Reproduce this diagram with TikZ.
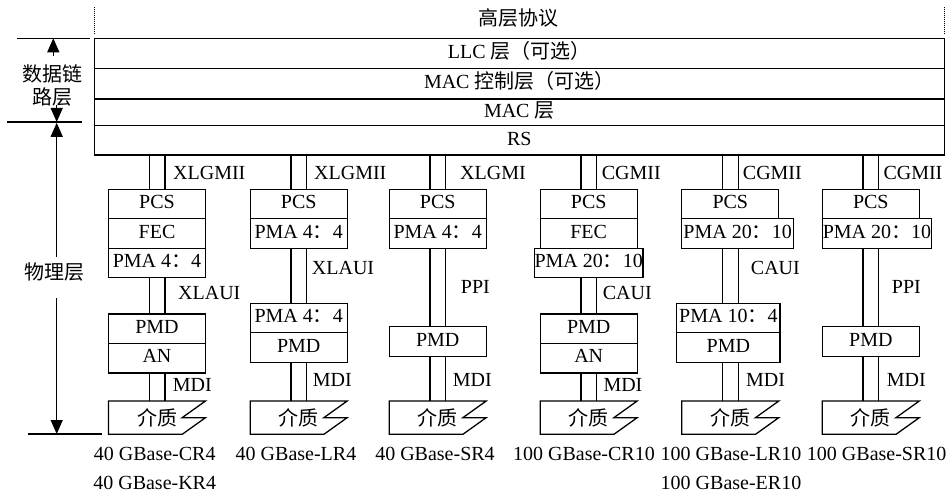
\documentclass[tikz,border=0pt]{standalone}
\usepackage{fontspec}
\setmainfont{Liberation Serif}
\newfontfamily\cjk{Noto Sans CJK SC}
\usepackage{tikz}
\usetikzlibrary{arrows.meta,positioning,backgrounds}
\tikzset{
    tier/.style={rectangle, draw, line width=1.3pt, minimum width=850pt, inner sep=0pt, outer sep=0pt, text height=13.3pt, text depth=3pt},
    blk/.style={rectangle, draw, line width=1.3pt, minimum width=97pt, minimum height=29.5pt, inner sep=0pt, outer sep=0pt, text height=13.3pt, text depth=4pt},
    media/.style={rectangle, minimum width=97pt, minimum height=33.3pt, inner sep=0pt, outer sep=0pt},
    outline/.style={line width=1.3pt, line join=miter},
    bus/.style={double, double distance=14.4pt, line width=1.3pt},
    span/.style={line width=1.3pt, -{Triangle[length=14pt,width=12pt]}},
    lbl/.style={anchor=west, inner sep=0pt},
    std/.style={inner sep=0pt},
    dotline/.style={line width=1pt, dash pattern=on 1pt off 1pt},
}

\begin{document}
\begin{tikzpicture}[x=1pt, y=-1pt, font=\fontsize{20}{23}\selectfont]
    \useasboundingbox (0,0) rectangle (952,497);

    % protocol stack on top
    \node[std] (upper) at (518.5,17.5) {{\cjk 高层协议}};
    \node[tier, minimum height=30pt, anchor=north west] (llc) at (94.3,38.3) {LLC {\cjk 层（可选）}};
    \node[tier, minimum height=30.7pt, below=0pt of llc] (macc) {MAC {\cjk 控制层（可选）}};
    \node[tier, minimum height=26.7pt, below=0pt of macc] (mac) {MAC {\cjk 层}};
    \node[tier, minimum height=29.3pt, below=0pt of mac] (rs) {RS};
    \draw[dotline] (llc.north west) ++(0,-4) -- ++(0,-27.5);
    \draw[dotline] (llc.north east) ++(0,-4) -- ++(0,-27.5);

    % left side: layer spans
    \coordinate (sepA) at (16.7,38.3);
    \coordinate (sepB) at (7.3,122);
    \coordinate (sepC) at (28.3,434);
    \draw[outline] (sepA) -- ++(73.3,0);
    \draw[outline] (sepB) -- ++(74.4,0);
    \draw[outline] (sepC) -- ++(73.4,0);
    \node[std, align=center] (dll) at (52.2,85.5) {{\cjk 数据链}\\{\cjk 路层}};
    \node[std] (phy) at (54,271.7) {{\cjk 物理层}};
    \coordinate (dlUp) at (53.3,56);
    \coordinate (dlDn) at (56.7,105);
    \coordinate (phUp) at (56.7,256.7);
    \coordinate (phDn) at (56.7,298);
    \draw[span] (dlUp) -- (dlUp |- sepA);
    \draw[span] (dlDn) -- (dlDn |- sepB);
    \draw[span, shorten >=0.8pt] (phUp) -- (phUp |- sepB);
    \draw[span] (phDn) -- (phDn |- sepC);

    % 40GBase-CR4 / KR4
    \node[blk, anchor=north] (pcsA) at (157,189.3) {PCS};
    \node[blk, below=0pt of pcsA] (fecA) {FEC};
    \node[blk, below=0pt of fecA] (pmaA) {PMA 4{\cjk ：}4};
    \node[blk, anchor=north] (pmdA) at (157,314) {PMD};
    \node[blk, below=0pt of pmdA] (anA) {AN};
    \node[media, anchor=north] (medA) at (157,401) {{\cjk 介质}};

    % 40GBase-LR4
    \node[blk, anchor=north] (pcsB) at (298.7,189.3) {PCS};
    \node[blk, below=0pt of pcsB] (pmaB) {PMA 4{\cjk ：}4};
    \node[blk, anchor=north] (pmaLB) at (298.7,303.3) {PMA 4{\cjk ：}4};
    \node[blk, below=0pt of pmaLB] (pmdB) {PMD};
    \node[media, anchor=north] (medB) at (298.7,401) {{\cjk 介质}};

    % 40GBase-SR4
    \node[blk, anchor=north] (pcsC) at (437.7,189.3) {PCS};
    \node[blk, below=0pt of pcsC] (pmaC) {PMA 4{\cjk ：}4};
    \node[blk, anchor=north] (pmdC) at (437.7,326.7) {PMD};
    \node[media, anchor=north] (medC) at (437.7,401) {{\cjk 介质}};

    % 100GBase-CR10
    \node[blk, anchor=north] (pcsD) at (588.7,189.3) {PCS};
    \node[blk, below=0pt of pcsD] (fecD) {FEC};
    \node[blk, minimum width=107pt, below=0pt of fecD] (pmaD) {PMA 20{\cjk ：}10};
    \node[blk, anchor=north] (pmdD) at (588.7,314) {PMD};
    \node[blk, below=0pt of pmdD] (anD) {AN};
    \node[media, anchor=north] (medD) at (588.7,401) {{\cjk 介质}};

    % 100GBase-LR10 / ER10
    \node[blk, anchor=north] (pcsE) at (730.3,189.3) {PCS};
    \node[blk, minimum width=111.6pt, anchor=north west] (pmaE) at (pcsE.south west) {PMA 20{\cjk ：}10};
    \node[blk, minimum width=103.3pt, anchor=north west] (pmaLE) at (676.7,303.3) {PMA 10{\cjk ：}4};
    \node[blk, minimum width=103.3pt, below=0pt of pmaLE] (pmdE) {PMD};
    \node[media, anchor=north] (medE) at (730.3,401) {{\cjk 介质}};

    % 100GBase-SR10
    \node[blk, anchor=north] (pcsF) at (870.8,189.3) {PCS};
    \node[blk, minimum width=109.4pt, anchor=north west] (pmaF) at (pcsF.south west) {PMA 20{\cjk ：}10};
    \node[blk, anchor=north] (pmdF) at (870.8,326.7) {PMD};
    \node[media, anchor=north] (medF) at (870.8,401) {{\cjk 介质}};

    \foreach \m in {medA,medB,medC,medD,medE,medF}
        \draw[outline] (\m.north west) -- (\m.north east) -- ([xshift=-23.3pt]\m.east)
            -- (\m.east) -- ([xshift=-23.3pt]\m.south east) -- (\m.south west) -- cycle;

    % interfaces
    \begin{scope}[on background layer]
        \draw[bus] (pcsA.north) -- (pcsA.north |- rs.south);
        \draw[bus] (pcsA |- pmaA.south) -- (pcsA |- pmdA.north);
        \draw[bus] (pcsA |- anA.south) -- (pcsA |- medA.north);
        \draw[bus] (pcsB.north) -- (pcsB.north |- rs.south);
        \draw[bus] (pcsB |- pmaB.south) -- (pcsB |- pmaLB.north);
        \draw[bus] (pcsB |- pmdB.south) -- (pcsB |- medB.north);
        \draw[bus] (pcsC.north) -- (pcsC.north |- rs.south);
        \draw[bus] (pcsC |- pmaC.south) -- (pcsC |- pmdC.north);
        \draw[bus] (pcsC |- pmdC.south) -- (pcsC |- medC.north);
        \draw[bus] (pcsD.north) -- (pcsD.north |- rs.south);
        \draw[bus] (pcsD |- pmaD.south) -- (pcsD |- pmdD.north);
        \draw[bus] (pcsD |- anD.south) -- (pcsD |- medD.north);
        \draw[bus] (pcsE.north) -- (pcsE.north |- rs.south);
        \draw[bus] (pcsE |- pmaE.south) -- (pcsE |- pmaLE.north);
        \draw[bus] (pcsE |- pmdE.south) -- (pcsE |- medE.north);
        \draw[bus] (pcsF.north) -- (pcsF.north |- rs.south);
        \draw[bus] (pcsF |- pmaF.south) -- (pcsF |- pmdF.north);
        \draw[bus] (pcsF |- pmdF.south) -- (pcsF |- medF.north);
    \end{scope}

    \node[lbl] at (173,173) {XLGMII};
    \node[lbl] at (178,293) {XLAUI};
    \node[lbl] at (172.7,385) {MDI};
    \node[lbl] at (314,173) {XLGMII};
    \node[lbl] at (311.7,268.3) {XLAUI};
    \node[lbl] at (312.7,380) {MDI};
    \node[lbl] at (460,173) {XLGMI};
    \node[lbl] at (460.7,286.7) {PPI};
    \node[lbl] at (452.7,380) {MDI};
    \node[lbl] at (601.7,173) {CGMII};
    \node[lbl] at (602.7,293.3) {CAUI};
    \node[lbl] at (603.3,385) {MDI};
    \node[lbl] at (742.7,173) {CGMII};
    \node[lbl] at (750.7,268.3) {CAUI};
    \node[lbl] at (746,380) {MDI};
    \node[lbl] at (883.3,173) {CGMII};
    \node[lbl] at (891.7,286.7) {PPI};
    \node[lbl] at (886.7,380) {MDI};

    % port types
    \node[std] (tA) at (154.7,454) {40 GBase-CR4};
    \node[std] (tA2) at (154.7,482.7) {40 GBase-KR4};
    \node[std] (tB) at (296,454) {40 GBase-LR4};
    \node[std] (tC) at (435,454) {40 GBase-SR4};
    \node[std] (tD) at (584,454) {100 GBase-CR10};
    \node[std] (tE) at (731,454) {100 GBase-LR10};
    \node[std] (tE2) at (731,483) {100 GBase-ER10};
    \node[std] (tF) at (876.7,454) {100 GBase-SR10};
\end{tikzpicture}
\end{document}
